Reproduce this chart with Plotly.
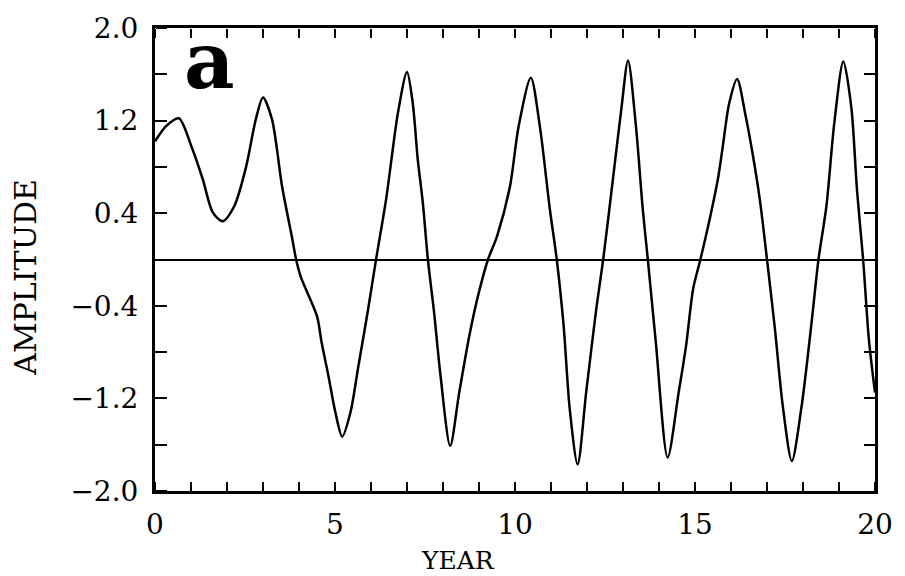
import plotly.graph_objects as go

year = [0.0, 0.3, 0.66, 1.02, 1.33, 1.6, 1.88, 2.2, 2.53, 2.8, 3.0, 3.25, 3.53, 3.8, 3.92,
        4.05, 4.5, 4.63, 4.82, 5.01, 5.2, 5.43, 5.65, 5.92, 6.14, 6.42, 6.75, 7.0, 7.16,
        7.3, 7.44, 7.58, 7.75, 7.93, 8.2, 8.45, 8.73, 9.0, 9.25, 9.5, 9.86, 10.1, 10.44,
        10.69, 10.97, 11.16, 11.35, 11.52, 11.74, 11.98, 12.26, 12.45, 12.73, 12.95, 13.14,
        13.36, 13.55, 13.69, 13.91, 14.24, 14.55, 14.75, 14.95, 15.15, 15.43, 15.65, 15.76,
        15.95, 16.17, 16.4, 16.58, 16.8, 17.0, 17.22, 17.44, 17.69, 17.96, 18.24, 18.43,
        18.65, 18.87, 19.12, 19.34, 19.5, 19.67, 19.83, 20.0]
amplitude = [1.02, 1.15, 1.22, 0.97, 0.69, 0.41, 0.33, 0.46, 0.80, 1.21, 1.40, 1.21, 0.63, 0.20, 0.0,
             -0.15, -0.49, -0.72, -1.01, -1.32, -1.53, -1.32, -0.92, -0.43, 0.0, 0.52, 1.27, 1.62, 1.35,
             0.86, 0.49, 0.0, -0.45, -1.0, -1.61, -1.15, -0.66, -0.28, 0.0, 0.2, 0.63, 1.15, 1.57,
             1.15, 0.43, 0.0, -0.57, -1.29, -1.77, -1.14, -0.42, 0.0, 0.72, 1.29, 1.72,
             1.15, 0.43, 0.0, -0.71, -1.71, -1.14, -0.75, -0.25, 0.0, 0.38, 0.72, 0.95,
             1.35, 1.56, 1.25, 0.95, 0.52, 0.0, -0.6, -1.27, -1.74, -1.27, -0.54, 0.0,
             0.46, 1.18, 1.71, 1.32, 0.60, 0.0, -0.69, -1.15]

x_ticks = list(range(0, 21))
x_tick_labels = ["0", "", "", "", "", "5", "", "", "", "", "10", "", "", "", "", "15",
                 "", "", "", "", "20"]
y_ticks = [-2.0, -1.6, -1.2, -0.8, -0.4, 0.0, 0.4, 0.8, 1.2, 1.6, 2.0]
y_tick_labels = ["\u22122.0", "", "\u22121.2", "", "\u22120.4", "", "0.4", "", "1.2", "", "2.0"]

font_family = "DejaVu Serif"
x_range = [0, 20]
y_range = [-2.0, 2.0]

fig = go.Figure()
fig.add_trace(go.Scatter(x=year, y=amplitude, mode="lines",
                         line=dict(color="black", width=2.5, shape="spline", smoothing=0.8),
                         showlegend=False, hoverinfo="skip"))
# invisible companion traces so the tick-only overlay axes are drawn
for xa, ya in [("x2", "y"), ("x3", "y"), ("x", "y2")]:
    fig.add_trace(go.Scatter(x=x_range, y=y_range, xaxis=xa, yaxis=ya, mode="lines",
                             opacity=0, line=dict(width=1, color="white"),
                             showlegend=False, hoverinfo="skip"))

fig.add_annotation(text="<b>a</b>", x=0.76, y=1.72, xref="x", yref="y",
                   xanchor="left", yanchor="middle", showarrow=False,
                   font=dict(family="DejaVu Serif", size=78, color="black"))

fig.add_annotation(text="YEAR", x=(461 - 155) / 727, y=-(561 - 491) / 464,
                   xref="paper", yref="paper", xanchor="center", yanchor="middle",
                   showarrow=False, font=dict(family=font_family, size=25, color="black"))
fig.add_annotation(text="AMPLITUDE", x=-(155 - 24) / 727, y=(491 - 277) / 464,
                   xref="paper", yref="paper", xanchor="center", yanchor="middle",
                   textangle=-90, showarrow=False,
                   font=dict(family=font_family, size=30, color="black"))

tick_only = dict(showline=False, showgrid=False, zeroline=False, showticklabels=False,
                 tickmode="array", ticks="outside", tickwidth=2, tickcolor="black")

fig.update_layout(
    width=905, height=576,
    margin=dict(l=155, r=23, t=27, b=85),
    paper_bgcolor="white", plot_bgcolor="white",
    font=dict(family=font_family, color="black"),
    # bottom edge: a "top" side axis placed at the bottom, so outside ticks point up
    xaxis2=dict(overlaying="x", anchor="free", position=0, side="top", range=x_range,
                tickvals=x_ticks, ticklen=9, **tick_only),
    # top edge: a "bottom" side axis placed at the top, so outside ticks point down
    xaxis3=dict(overlaying="x", anchor="free", position=1, side="bottom", range=x_range,
                tickvals=x_ticks, ticklen=9, **tick_only),
    # left edge: a "right" side axis placed at the left, so outside ticks point right
    yaxis2=dict(overlaying="y", anchor="free", position=0, side="right", range=y_range,
                tickvals=y_ticks, ticklen=11, **tick_only),
)
fig.layout.xaxis.update(
    range=x_range, tickmode="array", tickvals=x_ticks, ticktext=x_tick_labels,
    showgrid=False, zeroline=False,
    showline=True, linecolor="black", linewidth=3, mirror=True,
    ticks="", tickfont=dict(family=font_family, size=28, color="black"),
    ticklabelstandoff=6,
)
fig.layout.yaxis.update(
    range=y_range, tickmode="array", tickvals=y_ticks, ticktext=y_tick_labels,
    showgrid=False, zeroline=True, zerolinecolor="black", zerolinewidth=2,
    showline=True, linecolor="black", linewidth=3, mirror="ticks",
    ticks="inside", ticklen=11, tickwidth=2, tickcolor="black",
    tickfont=dict(family=font_family, size=28, color="black"),
    ticklabelstandoff=8,
)

fig.write_html("out.html")
